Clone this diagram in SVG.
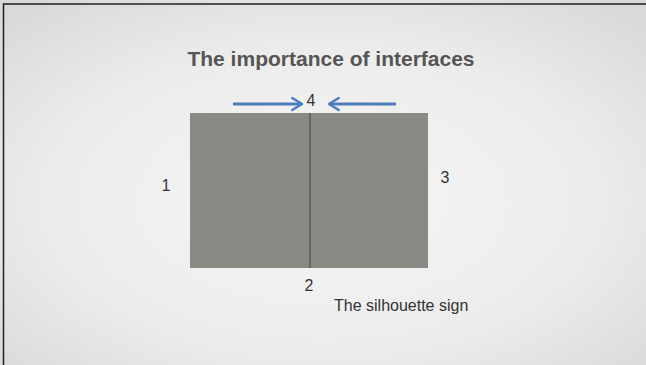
<svg xmlns="http://www.w3.org/2000/svg" width="646" height="365" viewBox="0 0 646 365">
<defs>
<radialGradient id="bg" cx="0.5" cy="0.55" r="0.7">
<stop offset="0" stop-color="#f6f6f6"/>
<stop offset="0.6" stop-color="#ececec"/>
<stop offset="1" stop-color="#d9d9d9"/>
</radialGradient>
<marker id="ah" viewBox="0 0 10 10" refX="8" refY="5" markerWidth="5" markerHeight="5" orient="auto" markerUnits="strokeWidth">
<path d="M1.5,1 L8,5 L1.5,9" fill="none" stroke="#4a7ebb" stroke-width="1.6" stroke-linecap="round" stroke-linejoin="round"/>
</marker>
<style>
.lbl{font-family:"Liberation Sans",Arial,sans-serif;font-size:16px;fill:#333}
.title{font-family:"Liberation Sans",Arial,sans-serif;font-size:21px;font-weight:bold;fill:#555}
.arr{stroke:#4a7ebb;stroke-width:3;fill:none;marker-end:url(#ah)}
</style>
</defs>
<rect x="0" y="0" width="646" height="365" fill="url(#bg)"/>
<path d="M3.5,365 V4 H646" fill="none" stroke="#222" stroke-width="1.5"/>
<text class="title" x="331" y="66" text-anchor="middle">The importance of interfaces</text>
<g id="left-block"><rect x="190" y="113" width="120" height="155" fill="#8a8984"/></g>
<g id="right-block"><rect x="310" y="113" width="118" height="155" fill="#8a8984"/></g>
<g id="divider"><line x1="310" y1="113" x2="310" y2="268" stroke="#444" stroke-width="1"/></g>
<g id="connectors">
<line class="arr" x1="233" y1="104" x2="302" y2="104"/>
<line class="arr" x1="396" y1="104" x2="329" y2="104"/>
</g>
<text class="lbl" x="311" y="106" text-anchor="middle">4</text>
<text class="lbl" x="166" y="191" text-anchor="middle">1</text>
<text class="lbl" x="445" y="183" text-anchor="middle">3</text>
<text class="lbl" x="309" y="291" text-anchor="middle">2</text>
<text class="lbl" x="334" y="311">The silhouette sign</text>
</svg>
